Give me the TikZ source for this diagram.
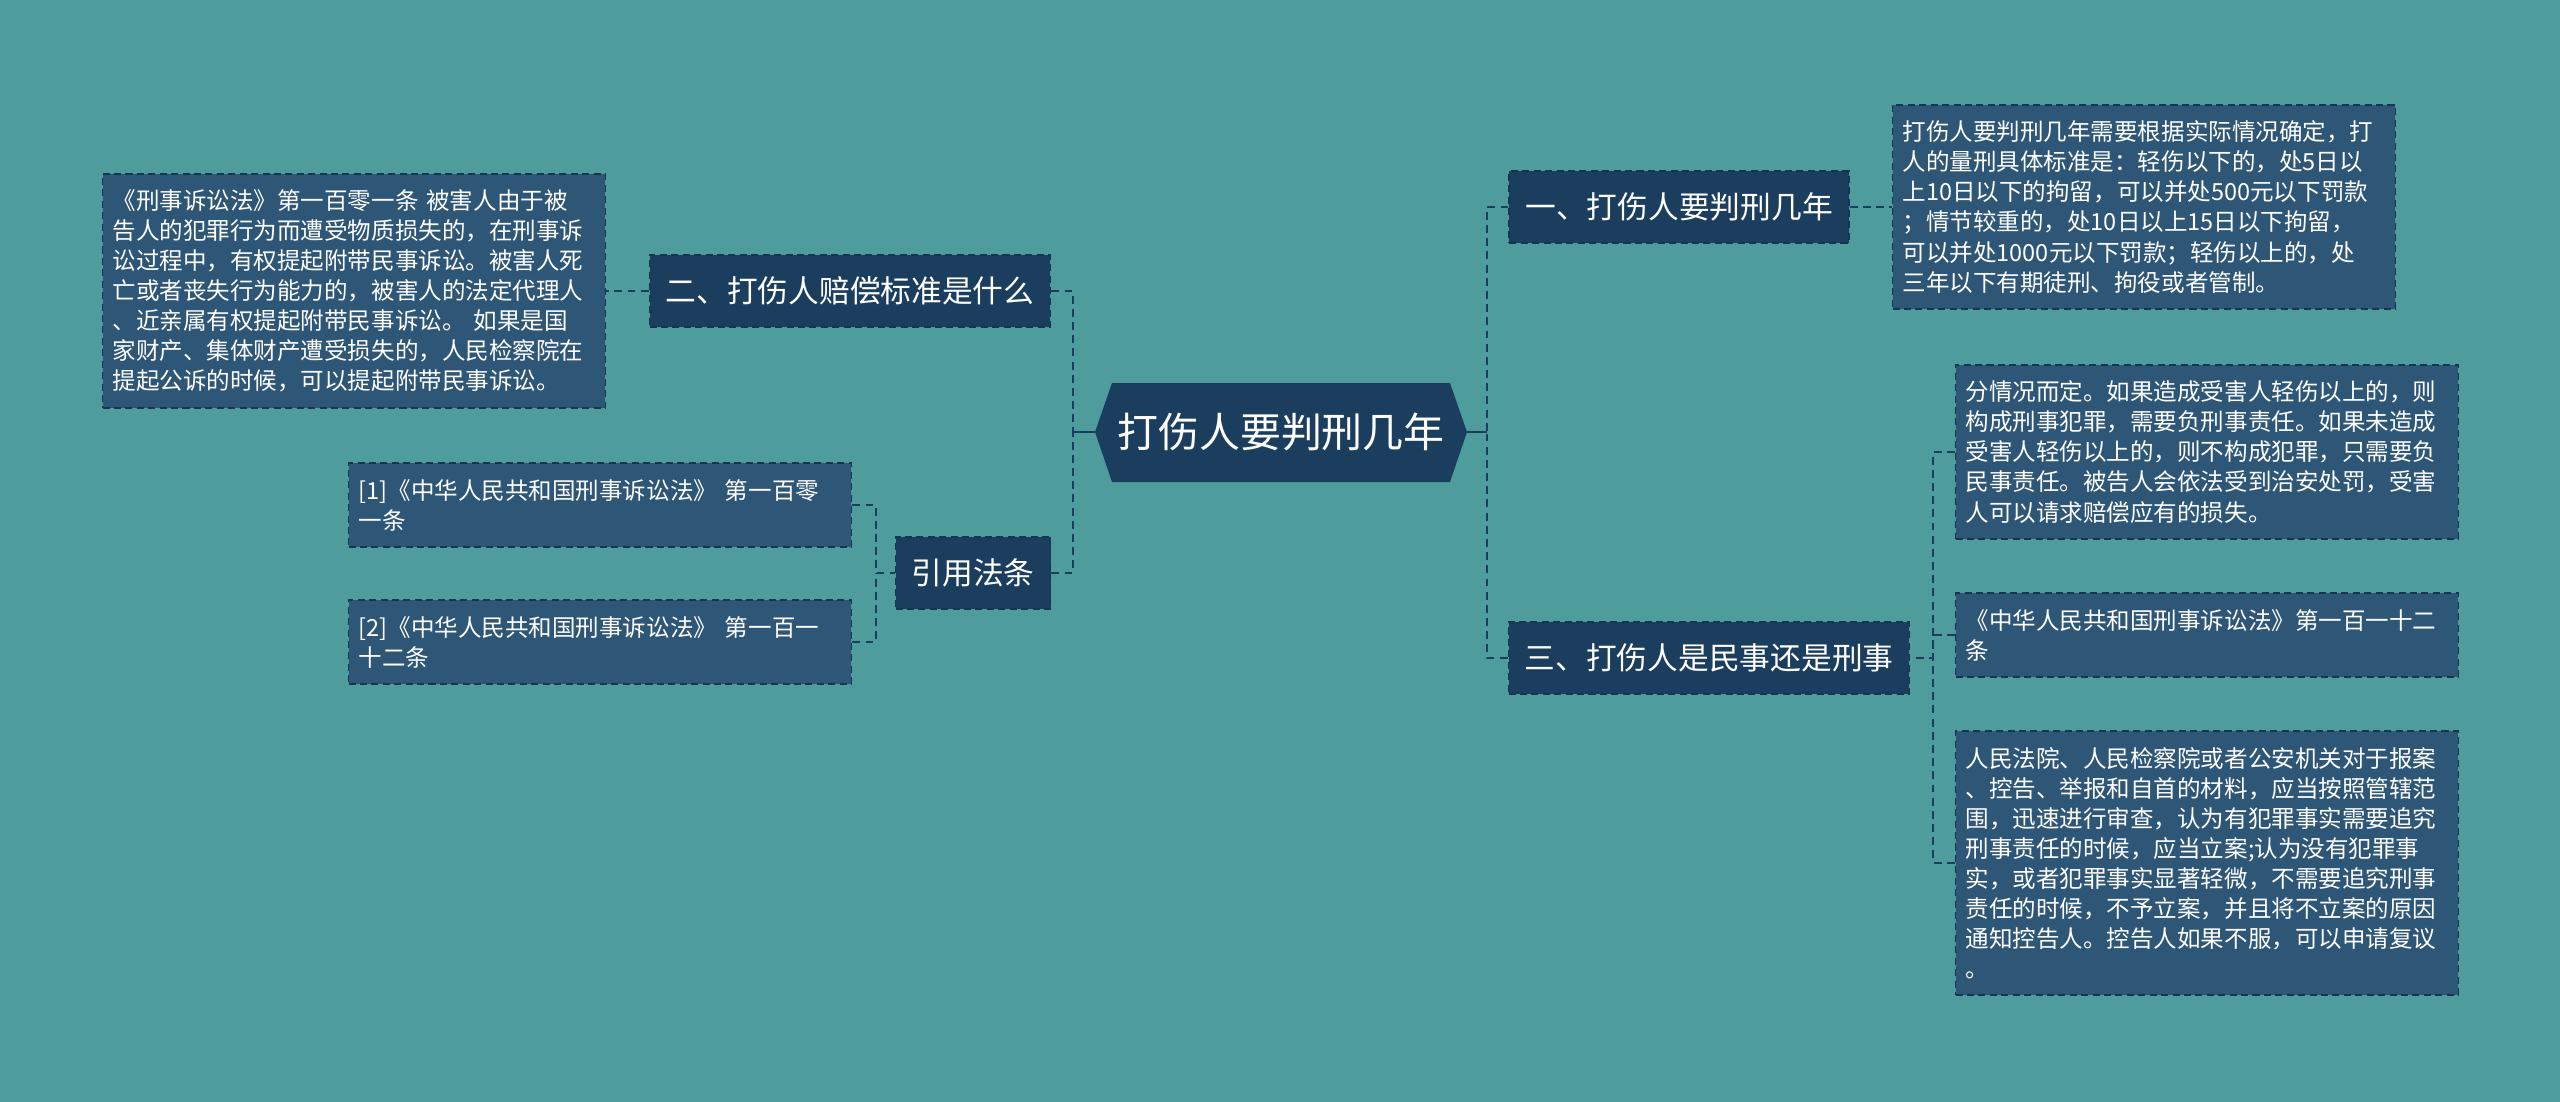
\documentclass[tikz,border=0pt]{standalone}
\usepackage{fontspec}
\setmainfont{Noto Sans CJK SC}
\definecolor{bgteal}{HTML}{4E9C9C}
\definecolor{navy}{HTML}{1B3E5E}
\definecolor{boxblue}{HTML}{2E5777}
\definecolor{edge}{HTML}{173552}
\tikzset{
  topic/.style={fill=navy,draw=edge,line width=1pt,dash pattern=on 4pt off 2.5pt,
    text=white,minimum height=1.44cm,inner xsep=0.32cm,inner ysep=0pt,
    font=\fontsize{17.5pt}{21pt}\selectfont},
  note/.style={fill=boxblue,draw=edge,line width=1pt,dash pattern=on 4pt off 2.5pt,
    text=white,align=left,text width=9.66cm,inner xsep=0.2cm,inner ysep=0.32cm,
    font=\fontsize{13.4pt}{17.1pt}\selectfont},
  link/.style={draw=navy,line width=1.1pt,dash pattern=on 4.5pt off 3pt},
  stem/.style={draw=navy,line width=1.1pt}
}
\begin{document}
\begin{tikzpicture}[x=0.02cm,y=-0.02cm]
        \useasboundingbox (0,0) rectangle (2560,1102) ;
        \fill[bgteal] (0,0) rectangle (2560,1102) ;
        % centre
        \fill[navy] (1095,432)--(1112,383)--(1450,383)--(1467,432)--(1450,482)--(1112,482)--cycle ;
        \node[text=white,minimum width=7.44cm,minimum height=1.98cm,inner sep=0pt,outer sep=0pt,
          font=\fontsize{23.3pt}{28pt}\selectfont] (root) at (1281,432) {打伤人要判刑几年} ;
        % topics
        \node[topic] (one) at (1679,207) {一、打伤人要判刑几年} ;
        \node[topic] (two) at (850,291) {二、打伤人赔偿标准是什么} ;
        \node[topic] (cite) at (973,573) {引用法条} ;
        \node[topic] (three) at (1709,658) {三、打伤人是民事还是刑事} ;
        % notes
        \node[note] (txtone) at (2144,207) {打伤人要判刑几年需要根据实际情况确定，打\\
          人的量刑具体标准是：轻伤以下的，处5日以\\
          上10日以下的拘留，可以并处500元以下罚款\\
          ；情节较重的，处10日以上15日以下拘留，\\
          可以并处1000元以下罚款；轻伤以上的，处\\
          三年以下有期徒刑、拘役或者管制。} ;
        \node[note] (txttwo) at (354,291) {《刑事诉讼法》第一百零一条~被害人由于被\\
          告人的犯罪行为而遭受物质损失的，在刑事诉\\
          讼过程中，有权提起附带民事诉讼。被害人死\\
          亡或者丧失行为能力的，被害人的法定代理人\\
          、近亲属有权提起附带民事诉讼。~如果是国\\
          家财产、集体财产遭受损失的，人民检察院在\\
          提起公诉的时候，可以提起附带民事诉讼。} ;
        \node[note] (citea) at (600,505) {[1]《中华人民共和国刑事诉讼法》~第一百零\\一条} ;
        \node[note] (citeb) at (600,642) {[2]《中华人民共和国刑事诉讼法》~第一百一\\十二条} ;
        \node[note] (txtthreea) at (2207,452) {分情况而定。如果造成受害人轻伤以上的，则\\
          构成刑事犯罪，需要负刑事责任。如果未造成\\
          受害人轻伤以上的，则不构成犯罪，只需要负\\
          民事责任。被告人会依法受到治安处罚，受害\\
          人可以请求赔偿应有的损失。} ;
        \node[note] (txtthreeb) at (2207,635) {《中华人民共和国刑事诉讼法》第一百一十二\\条} ;
        \node[note] (txtthreec) at (2207,863) {人民法院、人民检察院或者公安机关对于报案\\
          、控告、举报和自首的材料，应当按照管辖范\\
          围，迅速进行审查，认为有犯罪事实需要追究\\
          刑事责任的时候，应当立案;认为没有犯罪事\\
          实，或者犯罪事实显著轻微，不需要追究刑事\\
          责任的时候，不予立案，并且将不立案的原因\\
          通知控告人。控告人如果不服，可以申请复议\\
          。} ;
        % connectors
        \coordinate (lbus) at (1073,432) ;
        \coordinate (rbus) at (1487,432) ;
        \coordinate (cbus) at (876,573) ;
        \coordinate (tbus) at (1933,658) ;
        \draw[stem] (lbus) -- (root.west) ;
        \draw[stem] (root.east) -- (rbus) ;
        \draw[link] (two.east) -| (lbus) ;
        \draw[link] (cite.east) -| (lbus) ;
        \draw[link] (one.west) -| (rbus) ;
        \draw[link] (three.west) -| (rbus) ;
        \draw[link] (one.east) -- (txtone.west) ;
        \draw[link] (two.west) -- (txttwo.east) ;
        \draw[link] (citea.east) -| (cbus) -- (cite.west) ;
        \draw[link] (citeb.east) -| (cbus) ;
        \draw[link] (txtthreea.west) -| (tbus) -- (three.east) ;
        \draw[link] (txtthreeb.west) -| (tbus) ;
        \draw[link] (txtthreec.west) -| (tbus) ;
\end{tikzpicture}
\end{document}
